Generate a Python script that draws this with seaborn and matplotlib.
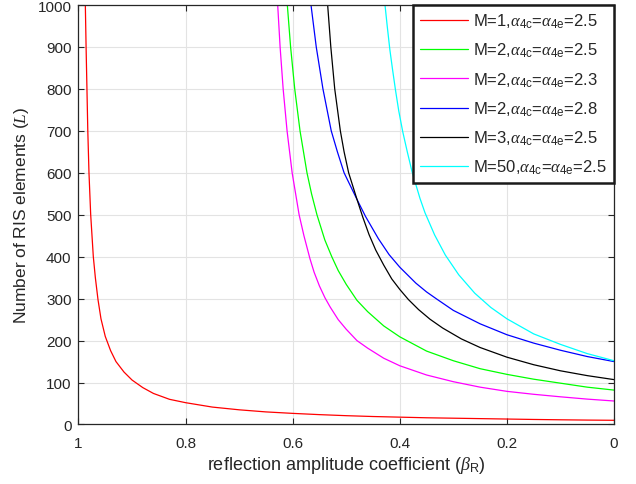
import matplotlib
matplotlib.use("Agg")
import matplotlib.pyplot as plt
import pandas as pd
import seaborn as sns

# Required number of RIS elements L versus reflection amplitude coefficient beta_R
beta_m1_a25 = [0, 0.05, 0.1, 0.15, 0.2, 0.25, 0.3, 0.35, 0.4, 0.45, 0.5, 0.55, 0.6,
               0.65, 0.7, 0.75, 0.8, 0.83, 0.86, 0.88, 0.9, 0.915, 0.93, 0.94, 0.95,
               0.958, 0.9636, 0.9685, 0.9723, 0.9772, 0.9804, 0.9826, 0.9842,
               0.9858, 0.9872]
L_m1_a25 = [10, 10.5, 11.2, 12, 13, 14, 15, 16, 17.5, 19, 21, 23.5, 26.5, 30, 35,
            41.5, 52, 60, 74, 88, 106, 125, 150, 176, 210, 252, 298, 350, 400, 500,
            600, 700, 800, 900, 1000]

beta_m2_a25 = [0, 0.05, 0.1, 0.15, 0.2, 0.25, 0.3, 0.35, 0.4, 0.43, 0.46, 0.48, 0.5,
               0.515, 0.527, 0.54, 0.5547, 0.5648, 0.5733, 0.5863, 0.5962, 0.6039,
               0.610]
L_m2_a25 = [82, 89, 98.5, 108, 119.5, 133, 152, 175, 209, 235, 269, 296, 334, 367,
            400, 440, 500, 550, 600, 700, 800, 900, 1000]

beta_m2_a23 = [0, 0.05, 0.1, 0.15, 0.2, 0.25, 0.3, 0.35, 0.4, 0.43, 0.46, 0.48, 0.5,
               0.515, 0.53, 0.5397, 0.55, 0.56, 0.5677, 0.579, 0.588, 0.601, 0.6105,
               0.6178, 0.6235, 0.628]
L_m2_a23 = [56, 60.5, 66, 72, 79, 89, 102, 118, 140, 158, 182, 200, 227, 250, 280,
            302, 330, 363, 395, 450, 500, 600, 700, 800, 900, 1000]

beta_m2_a28 = [0, 0.05, 0.1, 0.15, 0.2, 0.25, 0.3, 0.331, 0.35, 0.37, 0.4, 0.42,
               0.44, 0.464, 0.4805, 0.504, 0.5165, 0.528, 0.5435, 0.556, 0.5658]
L_m2_a28 = [150, 162, 177, 194, 214, 240, 272, 299, 316, 337, 375, 405, 443, 496,
            538, 600, 650, 700, 800, 900, 1000]

beta_m3_a25 = [0, 0.05, 0.1, 0.15, 0.2, 0.25, 0.285, 0.32, 0.3436, 0.365, 0.384,
               0.4, 0.415, 0.43, 0.445, 0.4575, 0.4693, 0.4805, 0.4955, 0.504,
               0.511, 0.5215, 0.5288, 0.5347]
L_m3_a25 = [107, 116.5, 128, 142.5, 160.5, 183.5, 204, 230, 251, 274, 298, 322, 347,
            380, 416, 453, 495, 539, 600, 650, 700, 800, 900, 1000]

beta_m50_a25 = [0, 0.05, 0.1, 0.15, 0.2, 0.23, 0.26, 0.29, 0.315, 0.335, 0.353,
                0.3623, 0.377, 0.386, 0.3945, 0.402, 0.408, 0.4135, 0.4185, 0.4235,
                0.4276]
L_m50_a25 = [152, 169, 191, 216, 252, 279, 313, 357, 404, 452, 505, 539, 602, 650,
             698, 748, 797, 846, 893, 950, 1000]

series_labels = [
    r"M=1,$\alpha_{\mathrm{4c}}$=$\alpha_{\mathrm{4e}}$=2.5",
    r"M=2,$\alpha_{\mathrm{4c}}$=$\alpha_{\mathrm{4e}}$=2.5",
    r"M=2,$\alpha_{\mathrm{4c}}$=$\alpha_{\mathrm{4e}}$=2.3",
    r"M=2,$\alpha_{\mathrm{4c}}$=$\alpha_{\mathrm{4e}}$=2.8",
    r"M=3,$\alpha_{\mathrm{4c}}$=$\alpha_{\mathrm{4e}}$=2.5",
    r"M=50,$\alpha_{\mathrm{4c}}$=$\alpha_{\mathrm{4e}}$=2.5",
]
series_beta = [beta_m1_a25, beta_m2_a25, beta_m2_a23, beta_m2_a28, beta_m3_a25, beta_m50_a25]
series_L = [L_m1_a25, L_m2_a25, L_m2_a23, L_m2_a28, L_m3_a25, L_m50_a25]
series_colors = ["#ff0000", "#00ff00", "#ff00ff", "#0000ff", "#000000", "#00ffff"]

x_ticks = [1, 0.8, 0.6, 0.4, 0.2, 0]
x_tick_labels = ["1", "0.8", "0.6", "0.4", "0.2", "0"]
y_ticks = list(range(0, 1001, 100))

frames = []
for lab, b, l in zip(series_labels, series_beta, series_L):
    frames.append(pd.DataFrame({"beta": b, "L": l, "series": lab}))
df = pd.concat(frames, ignore_index=True)

sns.set_style("ticks")
plt.rcParams["font.family"] = ["Liberation Sans", "DejaVu Sans"]
plt.rcParams["mathtext.fontset"] = "custom"
plt.rcParams["mathtext.rm"] = "Liberation Sans"
plt.rcParams["mathtext.it"] = "Liberation Serif:italic"
plt.rcParams["mathtext.bf"] = "Liberation Sans:bold"

fig = plt.figure(figsize=(6.36, 4.85), dpi=100)
ax = fig.add_axes([0.1234, 0.1227, 0.8420, 0.8649])

sns.lineplot(data=df, x="beta", y="L", hue="series", hue_order=series_labels,
             palette=series_colors, estimator=None, sort=True, linewidth=0.9,
             ax=ax)

ax.set_xlim(1, 0)
ax.set_ylim(0, 1000)
ax.set_xticks(x_ticks)
ax.set_xticklabels(x_tick_labels)
ax.set_yticks(y_ticks)

ax.grid(True, color="#e3e3e3", linewidth=0.8)
ax.set_axisbelow(True)

axis_color = "#262626"
for side in ["left", "right", "top", "bottom"]:
    ax.spines[side].set_visible(True)
    ax.spines[side].set_color(axis_color)
    ax.spines[side].set_linewidth(0.9)
ax.tick_params(direction="in", length=4, width=0.8, color=axis_color,
               top=True, right=True, labelsize=11, labelcolor=axis_color)
ax.tick_params(axis="x", pad=8)
ax.tick_params(axis="y", pad=5)

ax.set_xlabel(r"reflection amplitude coefficient ($\beta_{\mathrm{R}}$)",
              fontsize=13, color=axis_color, labelpad=3)
ax.set_ylabel(r"Number of RIS elements ($L$)", fontsize=12.5, color=axis_color,
              labelpad=5)

leg = ax.legend(loc="upper right", borderaxespad=0, fontsize=12, frameon=True,
                fancybox=False, framealpha=1, handlelength=2.9,
                handletextpad=0.3, labelspacing=0.65, borderpad=0.4)
leg.get_frame().set_edgecolor("#1a1a1a")
leg.get_frame().set_linewidth(1.8)
for h in leg.get_lines():
    h.set_linewidth(0.9)

fig.savefig("out.png", dpi=100)
